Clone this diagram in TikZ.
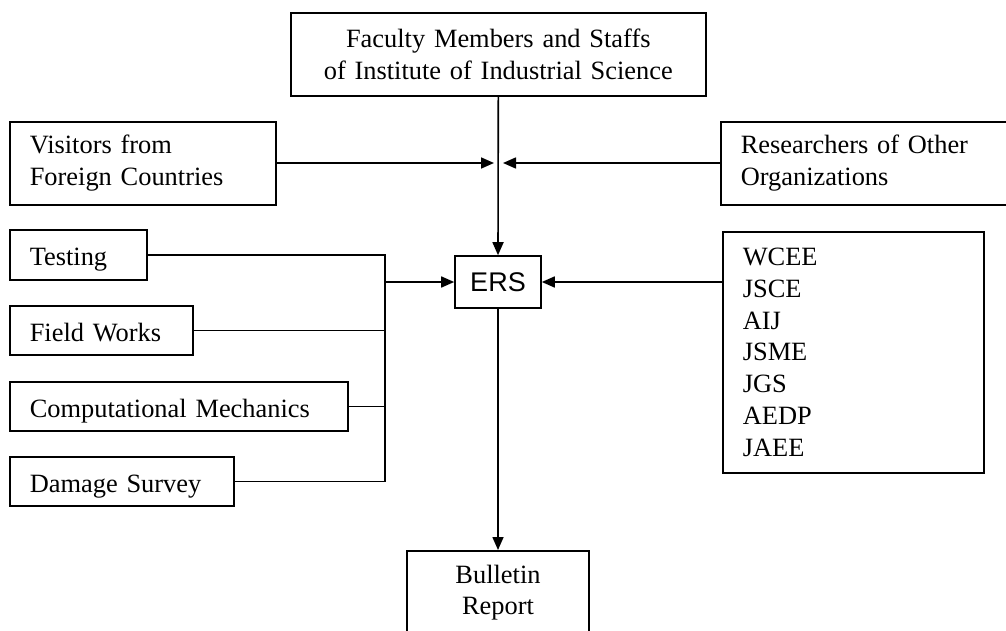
\documentclass[tikz,border=0pt]{standalone}
\usepackage{fontspec}
\setmainfont{Liberation Serif}
\newfontfamily\ersfont{Liberation Sans}
\usetikzlibrary{arrows.meta}

\begin{document}
\begin{tikzpicture}[x=0.5pt, y=-0.5pt, line width=0.8pt,
		box/.style={draw, anchor=north west, inner xsep=10pt, inner ysep=0pt,
			align=left, font=\fontsize{13.2}{15.9}\selectfont},
		onebox/.style={box, text height=12pt, text depth=1pt},
		cbox/.style={box, align=center},
		arr/.style={-{Triangle[length=6.5pt, width=5.5pt]}}]
		\useasboundingbox (0,0) rectangle (1006,631);
		
		\node[cbox, text width=187.5pt, minimum height=41.5pt] (fac) at (290,12)
			{Faculty Members and Staffs\\of Institute of Industrial Science};
		\node[box, text width=113pt, minimum height=41.5pt] (vis) at (9,121)
			{Visitors from\\Foreign Countries};
		\node[box, text width=126pt, minimum height=41.5pt] (res) at (720,121)
			{Researchers of Other\\Organizations};
		\node[onebox, text width=48.5pt, minimum height=25pt] (test) at (9,229) {Testing};
		\node[onebox, text width=71.5pt, minimum height=24.5pt] (field) at (9,305) {Field Works};
		\node[onebox, text width=149pt, minimum height=24.5pt] (comp) at (9,381) {Computational Mechanics};
		\node[onebox, text width=92pt, minimum height=24.5pt] (dam) at (9,456) {Damage Survey};
		\node[draw, inner sep=0pt, minimum width=43pt, minimum height=26pt,
			font=\ersfont\fontsize{13.5}{15}\selectfont] (ers) at (498,282) {ERS};
		\node[box, text width=110.5pt, minimum height=120.5pt] (org) at (722,231)
			{WCEE\\JSCE\\AIJ\\JSME\\JGS\\AEDP\\JAEE};
		\node[cbox, anchor=north, text width=71pt, inner ysep=7pt] (bull) at (498,550)
			{Bulletin\\Report};
		
		\coordinate (jl) at (494,163);
		\coordinate (jr) at (503,163);
		\coordinate (bus) at (385,282);
		
		\draw[arr] (fac.south) -- (ers.north);
		\draw[arr] (vis.east |- jl) -- (jl);
		\draw[arr] (res.west |- jr) -- (jr);
		\draw (test.east) -- (test.east -| bus) -- (dam.east -| bus) -- (dam.east);
		\draw (field.east) -- (field.east -| bus);
		\draw (comp.east) -- (comp.east -| bus);
		\draw[arr] (bus) -- (ers.west);
		\draw[arr] (org.west |- ers.east) -- (ers.east);
		\draw[arr] (ers.south) -- (bull.north);
	\end{tikzpicture}
\end{document}
